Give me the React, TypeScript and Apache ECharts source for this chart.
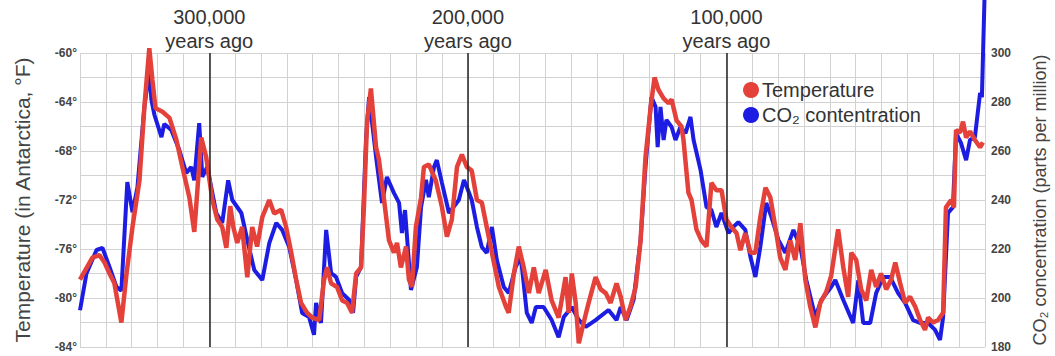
import React, { useEffect, useRef } from "react";
import * as echarts from "echarts";

// Temperature record (thousands of years ago, °F)
const tempYearsAgo = [
  350, 345.2, 342.5, 340.5, 338.6, 336.7, 334.0, 332.0, 329.7, 327.0,
  325.1, 323.2, 322.0, 320.8, 318.1, 315.4, 312.7, 310.4, 307.7, 305.8,
  304.6, 303.1, 301.2, 298.8, 296.9, 295.0, 293.4, 291.9, 290.7, 289.2,
  287.3, 285.3, 283.4, 281.5, 279.5, 276.8, 274.9, 272.2, 270.3, 268.3,
  266.4, 264.5, 262.2, 260.2, 257.5, 255.6, 254.4, 252.9, 250.6, 248.6,
  246.7, 244.8, 243.2, 241.3, 240.2, 239.0, 237.5, 235.5, 234.4, 232.4,
  230.5, 228.6, 227.4, 225.9, 223.9, 222.8, 221.6, 220.1, 218.1, 217.0,
  215.1, 212.4, 210.0, 208.1, 206.2, 204.2, 202.3, 200.4, 198.5, 196.5,
  194.6, 192.7, 190.7, 188.0, 185.3, 184.2, 182.2, 180.3, 178.4, 176.4,
  174.5, 172.6, 169.9, 167.6, 164.9, 162.2, 161.0, 159.8, 158.3, 157.1,
  155.2, 153.3, 150.6, 148.6, 146.7, 144.8, 142.5, 140.9, 139.0, 137.1,
  135.1, 133.2, 131.3, 129.3, 127.8, 126.3, 124.3, 122.4, 121.2, 119.3,
  117.4, 116.6, 114.7, 113.5, 111.6, 109.7, 107.7, 105.8, 103.9, 101.9,
  100.0, 98.1, 96.1, 94.6, 92.7, 90.7, 88.8, 86.9, 84.9, 83.0,
  81.1, 79.2, 77.2, 75.3, 73.4, 71.4, 69.5, 67.6, 65.6, 63.7,
  61.4, 59.5, 56.8, 54.8, 52.9, 51.7, 49.8, 47.9, 45.9, 44.0,
  42.1, 40.2, 38.2, 36.3, 34.7, 32.8, 30.9, 29.0, 27.0, 25.1,
  23.2, 22.0, 20.1, 18.1, 16.2, 15.1, 13.1, 12.0, 11.2, 9.7,
  8.5, 7.3, 5.8, 3.9, 1.9, 0.8,
];
const tempValues = [
  -78.5, -76.7, -76.5, -77.1, -78, -78.8, -82.0, -78, -74.2, -70.4,
  -64.4, -59.6, -62.2, -64.5, -64.8, -65.3, -67.1, -69.3, -71.8, -74.6,
  -71.2, -66.9, -68.5, -72, -73.6, -74.2, -75.9, -72.5, -74.2, -75.5,
  -74.2, -78.3, -74.2, -75.8, -73.4, -72, -73.1, -72.8, -74.2, -76.3,
  -78.5, -80.4, -81.2, -81.6, -81.8, -78.5, -77.5, -78.8, -79.1, -80.2,
  -80.4, -81.2, -78, -77.5, -72.6, -65.7, -62.9, -67.7, -68.7, -72,
  -75.3, -76.3, -75.5, -77.5, -75.8, -78.5, -79.1, -74.2, -71.8, -69.3,
  -69.1, -70.4, -72.6, -75, -73.6, -69.3, -68.3, -69.3, -69.6, -72,
  -72.2, -74.2, -76.3, -79.1, -80.7, -81.2, -78, -75.8, -77.5, -79.6,
  -77.5, -79.6, -77.7, -80.2, -81.6, -78.3, -81.2, -78, -80.4, -83.7,
  -82, -80.4, -78.3, -79.3, -79.6, -80.4, -78.8, -79.9, -81.8, -80.7,
  -79.1, -75.3, -68.5, -64.4, -62, -63, -63.7, -64.1, -63.8, -65.5,
  -66, -67.1, -71.4, -72, -74.4, -75.3, -75.8, -70.6, -71.2, -71.2,
  -73.6, -74.2, -74.7, -76.1, -74.7, -76.3, -76.3, -73.4, -71, -71.8,
  -74.2, -76.7, -77.7, -75.3, -76.9, -73.9, -78.5, -80.7, -82.4, -80.4,
  -79.5, -78.2, -74.4, -77.5, -79.9, -76.3, -76.9, -79.3, -80.2, -77.7,
  -79.1, -78, -79.3, -78.5, -77.1, -78.8, -80.4, -79.9, -80.7, -81.8,
  -82.6, -81.6, -82, -81.8, -81.2, -72.6, -72, -72.6, -66.3, -66.5,
  -65.6, -66.9, -66.4, -67.1, -67.7, -67.3,
];

// CO2 record (thousands of years ago, ppm)
const co2YearsAgo = [
  350, 347.5, 343.6, 341.3, 338.6, 335.9, 334.0, 331.7, 329.7, 327.8,
  325.1, 323.2, 322.4, 321.2, 318.5, 317.4, 314.7, 311.6, 308.9, 307.0,
  305.8, 303.9, 302.7, 300.8, 297.3, 295.0, 292.7, 291.1, 287.6, 285.3,
  282.6, 279.5, 276.8, 274.1, 271.8, 269.1, 266.4, 264.1, 261.4, 259.5,
  258.7, 256.8, 254.8, 252.9, 251.0, 248.6, 245.9, 244.4, 243.2, 241.3,
  239.4, 238.2, 235.5, 233.2, 231.3, 228.6, 226.6, 225.5, 224.3, 222.0,
  219.7, 218.1, 216.2, 215.1, 213.1, 212.0, 210.0, 207.3, 203.5, 201.5,
  200.4, 198.5, 196.5, 194.6, 192.7, 190.7, 188.8, 186.1, 184.2, 181.5,
  179.5, 177.2, 175.3, 173.7, 170.7, 167.6, 164.9, 162.9, 159.8, 157.1,
  154.4, 150.6, 145.6, 142.5, 140.9, 138.6, 135.9, 133.2, 131.3, 129.0,
  127.4, 126.6, 125.5, 124.3, 123.2, 121.2, 119.7, 117.8, 115.8, 113.9,
  112.7, 110.0, 107.7, 105.8, 103.9, 101.9, 99.2, 97.3, 95.4, 92.7,
  90.7, 88.8, 86.9, 84.6, 82.6, 79.9, 77.2, 74.1, 71.4, 69.1,
  65.6, 63.3, 59.5, 57.9, 54.8, 51.0, 49.0, 47.1, 44.4, 42.1,
  39.4, 36.7, 33.6, 30.9, 27.8, 25.1, 22.0, 19.3, 17.4, 16.2,
  14.3, 12.4, 11.2, 9.3, 7.3, 5.8, 3.9, 1.9, 1.2, 0,
];
const co2Values = [
  195, 210, 219.6, 220.4, 212.7, 204.5, 203, 247.3, 235, 245,
  278, 293, 281, 274.7, 265.7, 271, 268.6, 260.4, 251, 253.5,
  248, 271.4, 249.4, 253.5, 234.7, 230.6, 248, 240, 234.7, 223.7,
  211.4, 207.3, 222.4, 230.6, 227.8, 220.8, 207.3, 193.9, 192.2, 185,
  198, 189.8, 227.8, 210.2, 208.6, 202, 199.2, 193.9, 208.6, 212.7,
  264.5, 282, 257.6, 238.8, 249.4, 242.9, 238.8, 226.5, 235.9, 203.3,
  212.7, 237.1, 248.2, 241.2, 253.5, 256.3, 246.9, 234.7, 240, 248.2,
  245.3, 240, 229, 220.8, 218.4, 229, 215.5, 204.5, 202, 212.7,
  216.7, 193.9, 189.8, 196.3, 196.3, 191, 184, 192.2, 196.3, 191,
  188.2, 191, 195.1, 191, 196.3, 191, 199.2, 223.7, 253.5, 282,
  278, 261.6, 278, 264.5, 272.7, 269.8, 264.5, 269.8, 267.3, 273.9,
  264.5, 252.2, 237.1, 235.9, 229, 234.7, 226.5, 229, 231, 227.8,
  216.7, 208.6, 220.8, 238.8, 233.1, 223.7, 218.4, 227.8, 220.8, 207.3,
  192.2, 199.2, 204.5, 207.3, 199.2, 189.8, 207.3, 189.8, 189.8, 202,
  208.6, 208.6, 202, 198, 191, 189.8, 189.8, 187, 182.9, 192.2,
  234.7, 237.1, 267.3, 263.3, 256.3, 264.5, 265.7, 283.7, 282, 330,
];

const markerYearsAgo = [300, 200, 100];
const markerLabels = ["300,000\nyears ago", "200,000\nyears ago", "100,000\nyears ago"];

const tempName = "Temperature";
const co2Name = "CO₂ contentration";

const RED = "#e4413a";
const BLUE = "#1c1ce2";
const GRID = "#d2d2d2";
const FONT = "'Liberation Sans', Arial, sans-serif";

export default function App() {
  const ref = useRef<HTMLDivElement>(null);

  useEffect(() => {
    if (!ref.current) return;
    const chart = echarts.init(ref.current, undefined, { renderer: "svg" });
    const tempData = tempYearsAgo.map((x, i) => [x, tempValues[i]]);
    const co2Data = co2YearsAgo.map((x, i) => [x, co2Values[i]]);

    chart.setOption({
      animation: false,
      textStyle: { fontFamily: FONT },
      grid: {
        left: 80,
        right: 70,
        top: 53,
        bottom: 9,
        containLabel: false,
        outerBoundsMode: "none",
      },
      legend: {
        data: [tempName, co2Name],
        orient: "vertical",
        left: 743,
        top: 80,
        icon: "circle",
        itemWidth: 16,
        itemHeight: 16,
        itemGap: 5,
        padding: 0,
        textStyle: { fontSize: 20, color: "#333", fontFamily: FONT, padding: [0, 0, 0, -2] },
      },
      xAxis: {
        type: "value",
        min: 0,
        max: 350,
        interval: 10,
        inverse: true,
        axisLabel: { show: false },
        axisLine: { show: false },
        axisTick: { show: false },
        splitLine: { show: true, lineStyle: { color: GRID, width: 1 } },
      },
      yAxis: [
        {
          type: "value",
          min: -84,
          max: -60,
          interval: 2,
          position: "left",
          name: "Temperature (in Antarctica, °F)",
          nameLocation: "middle",
          nameGap: 47,
          nameTextStyle: { fontSize: 21, color: "#444", fontFamily: FONT },
          axisLine: { show: false },
          axisTick: { show: false },
          axisLabel: {
            formatter: (v: number) => (v % 4 === 0 ? v + "°" : ""),
            fontSize: 12,
            fontWeight: "bold",
            color: "#444",
            margin: 3,
            fontFamily: FONT,
          },
          splitLine: { show: true, lineStyle: { color: GRID, width: 1 } },
        },
        {
          type: "value",
          min: 180,
          max: 300,
          interval: 10,
          position: "right",
          name: "CO₂ concentration (parts per million)",
          nameLocation: "middle",
          nameGap: 46,
          nameTextStyle: { fontSize: 18, color: "#444", fontFamily: FONT },
          axisLine: { show: false },
          axisTick: { show: false },
          axisLabel: {
            formatter: (v: number) => (v % 20 === 0 ? String(v) : ""),
            fontSize: 12,
            fontWeight: "bold",
            color: "#444",
            margin: 6,
            fontFamily: FONT,
          },
          splitLine: { show: false },
        },
      ],
      series: [
        {
          name: co2Name,
          type: "line",
          yAxisIndex: 1,
          data: co2Data,
          symbol: "none",
          clip: false,
          lineStyle: { color: BLUE, width: 4 },
          itemStyle: { color: BLUE },
          z: 2,
        },
        {
          name: tempName,
          type: "line",
          yAxisIndex: 0,
          data: tempData,
          symbol: "none",
          clip: false,
          lineStyle: { color: RED, width: 4.5 },
          itemStyle: { color: RED },
          z: 3,
          markLine: {
            symbol: "none",
            silent: true,
            lineStyle: { color: "#222", width: 1.5, type: "solid" },
            label: {
              show: true,
              position: "end",
              distance: 0,
              formatter: (p: any) => p.name,
              fontSize: 20,
              lineHeight: 24,
              color: "#333",
              fontFamily: FONT,
            },
            data: markerYearsAgo.map((x, i) => ({ xAxis: x, name: markerLabels[i] })),
          },
        },
      ],
    });
    return () => chart.dispose();
  }, []);

  return (
    <div
      ref={ref}
      style={{ position: "fixed", left: 0, top: 0, width: 1055, height: 356, background: "#fff" }}
    />
  );
}
